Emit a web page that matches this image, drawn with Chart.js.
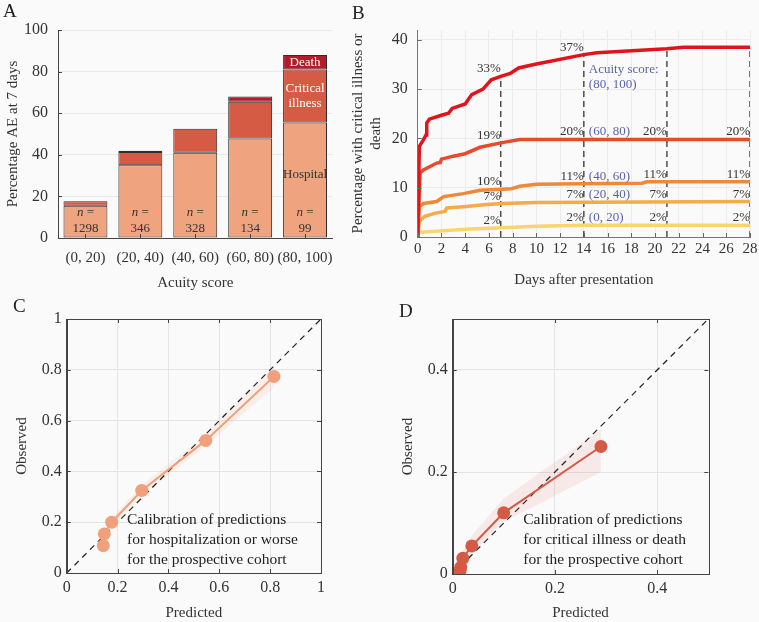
<!DOCTYPE html>
<html>
<head>
<meta charset="utf-8">
<script src="https://cdn.jsdelivr.net/npm/chart.js@4.4.1/dist/chart.umd.min.js"></script>
<style>
  html, body { margin: 0; padding: 0; background: #fafafa; width: 759px; height: 622px; overflow: hidden; }
  canvas { position: absolute; }
  .letter { position: absolute; font-family: "Liberation Serif", "Times New Roman", serif; font-size: 19px; line-height: 1; color: #222; }
</style>
</head>
<body>
<canvas id="chartA" width="375" height="295" style="left:0;top:0"></canvas>
<canvas id="chartB" width="430" height="295" style="left:345px;top:0"></canvas>
<canvas id="chartC" width="380" height="327" style="left:0;top:295px"></canvas>
<canvas id="chartD" width="379" height="327" style="left:380px;top:295px"></canvas>
<div class="letter" style="left:3px;top:1px">A</div>
<div class="letter" style="left:352px;top:3px">B</div>
<div class="letter" style="left:13px;top:296px">C</div>
<div class="letter" style="left:399px;top:301px">D</div>
<script>
// ---- panel A: outcome at 7 days per acuity bin ----
const acuityBins = ["(0, 20)", "(20, 40)", "(40, 60)", "(60, 80)", "(80, 100)"];
const binCounts = [1298, 346, 328, 134, 99];
const hospitalPct = [15.5, 35, 41, 47.8, 55.5];
const criticalPct = [2.2, 6.3, 11.5, 17.7, 25.5];
const deathPct = [null, 0.7, null, 2.5, 7];
const yTicksA = [0, 20, 40, 60, 80, 100];

// ---- panel B: cumulative critical illness or death ----
const seriesNamesB = ["(80, 100)", "(60, 80)", "(40, 60)", "(20, 40)", "(0, 20)"];
const days80 = [0, 0.14, 0.48, 0.7, 0.76, 0.98, 2.0, 2.6, 2.9, 4.0, 4.55, 5.5, 6.2, 7, 7.8, 8.5, 10, 14, 15.1, 21, 22.4, 28];
const pct80 = [0, 18.4, 19.7, 20.7, 23.1, 23.9, 24.7, 25.1, 26.1, 27, 28.9, 30, 31.9, 32.6, 33.2, 34.3, 35.1, 37, 37.4, 38.2, 38.5, 38.5];
const days60 = [0, 0.2, 0.48, 1.6, 1.9, 2.0, 3, 4, 5.25, 7, 8.6, 28];
const pct60 = [0, 13, 13.6, 15, 15.1, 15.8, 16.4, 16.9, 18.2, 19.1, 19.8, 19.8];
const days40 = [0, 0.14, 0.5, 1.6, 1.9, 2.2, 3.85, 5.25, 7.2, 7.9, 8.6, 10, 14, 18.9, 19.3, 28];
const pct40 = [0, 6.2, 6.8, 7.2, 7.7, 8.2, 8.8, 9.5, 9.7, 9.8, 10.3, 10.7, 10.8, 10.9, 11.2, 11.2];
const days20 = [0, 0.14, 0.6, 1, 1.6, 2.3, 2.45, 4.1, 5.8, 7.2, 10, 28];
const pct20 = [0, 3.2, 4.2, 4.5, 4.9, 5.2, 5.9, 6.2, 6.6, 6.8, 7.0, 7.2];
const days0 = [0, 0.14, 4.4, 7.2, 10, 14, 28];
const pct0 = [0, 0.95, 1.6, 1.9, 2.2, 2.4, 2.4];
const markDays = [7, 14, 21, 28];
const markLabels = [
  ["33%", "37%", null, null],
  ["19%", "20%", "20%", "20%"],
  ["10%", "11%", "11%", "11%"],
  ["7%", "7%", "7%", "7%"],
  ["2%", "2%", "2%", "2%"]
];
const yTicksB = [0, 10, 20, 30, 40];

// ---- panels C, D: calibration ----
const predC = [0.144, 0.148, 0.177, 0.295, 0.547, 0.815];
const obsC = [0.108, 0.154, 0.2, 0.325, 0.522, 0.774];
const loC = [0.095, 0.14, 0.185, 0.305, 0.5, 0.73];
const hiC = [0.12, 0.17, 0.215, 0.345, 0.545, 0.815];
const predD = [0.0144, 0.0157, 0.0197, 0.0374, 0.0997, 0.29];
const obsD = [0.0065, 0.013, 0.0307, 0.055, 0.12, 0.25];
const loD = [0.0, 0.004, 0.018, 0.04, 0.102, 0.2];
const hiD = [0.014, 0.024, 0.045, 0.075, 0.148, 0.284];
const ticksC = [0, 0.2, 0.4, 0.6, 0.8, 1];
const ticksD = [0, 0.2, 0.4];

const SERIF = '"Liberation Serif", "Times New Roman", serif';
Chart.defaults.font.family = SERIF;
Chart.defaults.color = "#333";
const HOSP = "#efa47f", CRIT = "#d65b45", DEATH = "#b31b2a";
const lineColorsB = ["#e1141c", "#e84a2d", "#ef8837", "#f5ab48", "#fbd36f"];
const BLUE = "#5b62ad";

const fixedTicks = (vals) => (s) => { s.ticks = vals.map((v) => ({ value: v })); };
const plainNum = (v) => String(+Number(v).toFixed(3));

function interp(xs, ys, x) {
  for (let i = 1; i < xs.length; i++) {
    if (x <= xs[i]) {
      const t = (x - xs[i - 1]) / (xs[i] - xs[i - 1] || 1);
      return ys[i - 1] + t * (ys[i] - ys[i - 1]);
    }
  }
  return ys[ys.length - 1];
}

// short inward tick marks, matlab style
function inwardTicks(chart, box, color) {
  const { ctx, chartArea: a, scales: { x, y } } = chart;
  const len = 4;
  ctx.save();
  ctx.strokeStyle = color;
  ctx.lineWidth = 1;
  ctx.beginPath();
  x.ticks.forEach((t) => {
    const px = Math.round(x.getPixelForValue(t.value)) + 0.5;
    ctx.moveTo(px, a.bottom); ctx.lineTo(px, a.bottom - len);
    if (box) { ctx.moveTo(px, a.top); ctx.lineTo(px, a.top + len); }
  });
  y.ticks.forEach((t) => {
    const py = Math.round(y.getPixelForValue(t.value)) + 0.5;
    ctx.moveTo(a.left, py); ctx.lineTo(a.left + len, py);
    if (box) { ctx.moveTo(a.right, py); ctx.lineTo(a.right - len, py); }
  });
  ctx.stroke();
  if (box) {
    ctx.strokeStyle = "#444";
    ctx.strokeRect(Math.round(a.left) + 0.5, Math.round(a.top) + 0.5, Math.round(a.right - a.left), Math.round(a.bottom - a.top));
  }
  ctx.restore();
}

// --- A ---
const barLabelsA = {
  id: "barLabelsA",
  afterDatasetsDraw(chart) {
    const { ctx, scales: { x, y } } = chart;
    ctx.save();
    ctx.textBaseline = "middle";
    acuityBins.forEach((b, i) => {
      const cx = x.getPixelForValue(i);
      ctx.fillStyle = "#333";
      ctx.font = "italic 13px " + SERIF;
      const wn = ctx.measureText("n").width;
      ctx.font = "13px " + SERIF;
      const we = ctx.measureText(" =").width;
      const x0 = cx - (wn + we) / 2;
      ctx.textAlign = "left";
      ctx.font = "italic 13px " + SERIF;
      ctx.fillText("n", x0, y.getPixelForValue(12));
      ctx.font = "13px " + SERIF;
      ctx.fillText(" =", x0 + wn, y.getPixelForValue(12));
      ctx.textAlign = "center";
      ctx.fillText(String(binCounts[i]), cx, y.getPixelForValue(4.3));
    });
    const last = acuityBins.length - 1;
    const cx = x.getPixelForValue(last);
    ctx.font = "13px " + SERIF;
    ctx.fillText("Hospital", cx, y.getPixelForValue(30.3));
    ctx.fillStyle = "#fff";
    const critMid = hospitalPct[last] + criticalPct[last] / 2;
    ctx.fillText("Critical", cx, y.getPixelForValue(critMid) - 7);
    ctx.fillText("illness", cx, y.getPixelForValue(critMid) + 8);
    const deathMid = hospitalPct[last] + criticalPct[last] + deathPct[last] / 2;
    ctx.fillText("Death", cx, y.getPixelForValue(deathMid));
    ctx.restore();
  },
  afterDraw(chart) { inwardTicks(chart, false, "#444"); }
};

const barStyle = { borderColor: "#2e2e2e", borderWidth: 1, borderSkipped: false, barPercentage: 0.8, categoryPercentage: 1 };
new Chart(document.getElementById("chartA"), {
  type: "bar",
  data: {
    labels: acuityBins,
    datasets: [
      { label: "Hospital", data: hospitalPct, backgroundColor: HOSP, ...barStyle },
      { label: "Critical illness", data: criticalPct, backgroundColor: CRIT, ...barStyle },
      { label: "Death", data: deathPct, backgroundColor: DEATH, ...barStyle }
    ]
  },
  options: {
    responsive: false, animation: false, devicePixelRatio: 1,
    layout: { padding: { left: 0, top: 30, right: 42.5, bottom: 0 } },
    plugins: { legend: { display: false }, tooltip: { enabled: false } },
    scales: {
      x: {
        stacked: true,
        grid: { display: false },
        border: { color: "#444" },
        ticks: { padding: 3, font: { size: 15 }, maxRotation: 0, autoSkip: false },
        title: { display: true, text: "Acuity score", font: { size: 15 }, padding: { top: 0, bottom: 3 } },
        afterFit: (s) => { s.height = 57; }
      },
      y: {
        stacked: true, min: 0, max: 100,
        afterBuildTicks: fixedTicks(yTicksA),
        ticks: { padding: 10, font: { size: 16 } },
        grid: { color: "#e9e9e9", drawTicks: false },
        border: { color: "#444" },
        title: { display: true, text: "Percentage AE at 7 days", font: { size: 15 }, padding: { top: 4, bottom: 0 } },
        afterFit: (s) => { s.width = 58; }
      }
    }
  },
  plugins: [barLabelsA]
});

// --- B ---
const daysB = [days80, days60, days40, days20, days0];
const pctB = [pct80, pct60, pct40, pct20, pct0];
const curveSets = pctB.map((vals, k) => ({
  label: seriesNamesB[k],
  data: vals.map((v, i) => ({ x: daysB[k][i], y: v })),
  borderColor: lineColorsB[k],
  borderWidth: 3.5,
  pointRadius: 0,
  tension: 0
}));
const dashSets = markDays.map((d) => ({
  label: "day " + d,
  data: [{ x: d, y: 0 }, { x: d, y: interp(days80, pct80, d) }],
  borderColor: "#333",
  borderWidth: 1.3,
  borderDash: [6, 4],
  pointRadius: 0
}));

const labelsB = {
  id: "labelsB",
  afterDatasetsDraw(chart) {
    const { ctx, scales: { x, y } } = chart;
    ctx.save();
    ctx.font = "13px " + SERIF;
    ctx.textBaseline = "alphabetic";
    markLabels.forEach((row, k) => {
      row.forEach((txt, j) => {
        const d = markDays[j];
        const py = y.getPixelForValue(interp(daysB[k], pctB[k], d)) - 4;
        if (txt) {
          ctx.fillStyle = "#333";
          ctx.textAlign = "right";
          ctx.fillText(txt, x.getPixelForValue(d), py);
        }
        if (d === 14 && k > 0) {
          ctx.fillStyle = BLUE;
          ctx.textAlign = "left";
          ctx.fillText(seriesNamesB[k], x.getPixelForValue(d) + 5, py);
        }
      });
    });
    const py80 = y.getPixelForValue(interp(days80, pct80, 14));
    ctx.fillStyle = BLUE;
    ctx.textAlign = "left";
    ctx.fillText("Acuity score:", x.getPixelForValue(14) + 5, py80 + 18);
    ctx.fillText(seriesNamesB[0], x.getPixelForValue(14) + 5, py80 + 33);
    ctx.restore();
  },
  afterDraw(chart) { inwardTicks(chart, false, "#666"); }
};

new Chart(document.getElementById("chartB"), {
  type: "line",
  data: { datasets: [...curveSets, ...dashSets] },
  options: {
    responsive: false, animation: false, devicePixelRatio: 1,
    layout: { padding: { left: 0, top: 30, right: 25, bottom: 0 } },
    plugins: { legend: { display: false }, tooltip: { enabled: false } },
    scales: {
      x: {
        type: "linear", min: 0, max: 28,
        ticks: { stepSize: 2, padding: 3, font: { size: 15 } },
        grid: { color: "#ececec", drawTicks: false },
        border: { color: "#777" },
        title: { display: true, text: "Days after presentation", font: { size: 15 }, padding: { top: 0, bottom: 6 } },
        afterFit: (s) => { s.height = 58; }
      },
      y: {
        min: 0, max: 42,
        afterBuildTicks: fixedTicks(yTicksB),
        ticks: { padding: 10, font: { size: 16 } },
        grid: { color: "#ececec", drawTicks: false },
        border: { color: "#777" },
        title: { display: true, text: ["Percentage with critical illness or", "death"], font: { size: 15 }, padding: { top: 4, bottom: 0 } },
        afterFit: (s) => { s.width = 72.7; }
      }
    }
  },
  plugins: [labelsB]
});

// --- C and D ---
function calibration(id, pred, obs, lo, hi, color, band, maxV, ticks, note, noteAt, pad) {
  const notePlugin = {
    id: "note" + id,
    afterDatasetsDraw(chart) {
      const { ctx, scales: { x, y } } = chart;
      ctx.save();
      ctx.font = "15.5px " + SERIF;
      ctx.fillStyle = "#222";
      ctx.textAlign = "left";
      ctx.textBaseline = "middle";
      note.forEach((line, i) => {
        ctx.fillText(line, x.getPixelForValue(noteAt[0]), y.getPixelForValue(noteAt[1]) + i * 20);
      });
      ctx.restore();
    },
    afterDraw(chart) { inwardTicks(chart, true, "#444"); }
  };
  new Chart(document.getElementById(id), {
    type: "line",
    data: {
      datasets: [
        { label: "calibration", data: pred.map((p, i) => ({ x: p, y: obs[i] })), borderColor: color, backgroundColor: color, borderWidth: 2, pointRadius: 6.5, pointBorderWidth: 0, tension: 0 },
        { label: "diagonal", data: [{ x: 0, y: 0 }, { x: maxV, y: maxV }], borderColor: "#222", borderWidth: 1.2, borderDash: [6, 5], pointRadius: 0 },
        { label: "upper", data: pred.map((p, i) => ({ x: p, y: hi[i] })), borderWidth: 0, pointRadius: 0, backgroundColor: band, fill: "+1" },
        { label: "lower", data: pred.map((p, i) => ({ x: p, y: lo[i] })), borderWidth: 0, pointRadius: 0, fill: false }
      ]
    },
    options: {
      responsive: false, animation: false, devicePixelRatio: 1,
      layout: { padding: { left: 0, top: 24, right: pad.right, bottom: 0 } },
      plugins: { legend: { display: false }, tooltip: { enabled: false } },
      scales: {
        x: {
          type: "linear", min: 0, max: maxV,
          afterBuildTicks: fixedTicks(ticks),
          ticks: { padding: 5, font: { size: 16 }, callback: plainNum },
          grid: { color: "#e4e4e4", drawTicks: false },
          border: { color: "#444" },
          title: { display: true, text: "Predicted", font: { size: 15 }, padding: { top: 0, bottom: 0 } },
          afterFit: (s) => { s.height = pad.bottom; }
        },
        y: {
          min: 0, max: maxV,
          afterBuildTicks: fixedTicks(ticks),
          ticks: { padding: 5, font: { size: 16 }, callback: plainNum },
          grid: { color: "#e4e4e4", drawTicks: false },
          border: { color: "#444" },
          title: { display: true, text: "Observed", font: { size: 15 }, padding: { top: pad.title, bottom: 0 } },
          afterFit: (s) => { s.width = pad.left; }
        }
      }
    },
    plugins: [notePlugin]
  });
}

calibration("chartC", predC, obsC, loC, hiC, "#f0a07c", "rgba(240,160,124,0.12)", 1, ticksC,
  ["Calibration of predictions", "for hospitalization or worse", "for the prospective cohort"], [0.237, 0.209],
  { left: 66.7, right: 59, bottom: 49, title: 13 });
calibration("chartD", predD, obsD, loD, hiD, "#d55a45", "rgba(213,90,69,0.10)", 0.5, ticksD,
  ["Calibration of predictions", "for critical illness or death", "for the prospective cohort"], [0.138, 0.106],
  { left: 72.7, right: 50.7, bottom: 48, title: 19 });
</script>
</body>
</html>
